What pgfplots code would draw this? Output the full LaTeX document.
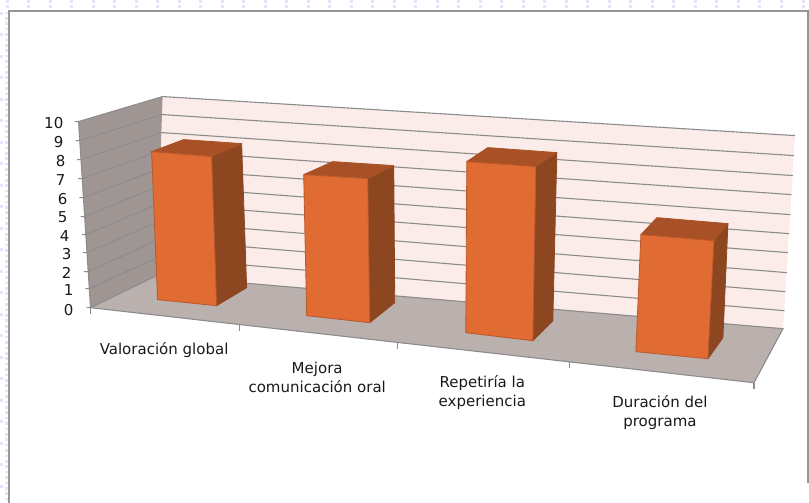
\documentclass[border=0pt]{standalone}
\usepackage{fontspec}
\setmainfont{DejaVu Sans}
\usepackage{pgfplots}
\pgfplotsset{compat=1.18}
\definecolor{backwall}{HTML}{FBECE9}
\definecolor{sidewall}{HTML}{9F9694}
\definecolor{floorc}{HTML}{BAB0AE}
\definecolor{gridc}{HTML}{8C8C8C}
\definecolor{barfront}{HTML}{E06B33}
\definecolor{barside}{HTML}{8D4720}
\definecolor{bartop}{HTML}{A95126}
\definecolor{baredge}{HTML}{B9582A}
\definecolor{framec}{HTML}{969696}
\definecolor{dotc}{HTML}{E3E3FA}
\tikzset{
  grid line/.style={draw=gridc, line width=1.1pt},
  face/.style={line width=0.8pt, line join=round},
  lab/.style={font=\fontsize{15pt}{19pt}\selectfont, align=center, text=black!90, inner sep=0pt},
}
\begin{document}
\begin{tikzpicture}
\begin{axis}[
  scale only axis, width=809pt, height=504pt,
  xmin=0, xmax=809, ymin=-1.5, ymax=502.5, y dir=reverse,
  hide axis, clip=true,
]
% slide background dots and frame
\addplot[dotc, line width=3pt, dash pattern=on 3pt off 18.5pt] coordinates {(6,2)(809,2)};
\addplot[dotc, line width=3pt, dash pattern=on 3pt off 18.5pt] coordinates {(6,7)(809,7)};
\addplot[dotc, line width=3pt, dash pattern=on 3pt off 18.5pt] coordinates {(2,12)(2,504)};
\addplot[dotc, line width=2.4pt, dash pattern=on 2.6pt off 2.8pt] coordinates {(7,12)(7,504)};
\addplot[framec, line width=1.8pt] coordinates {(9.5,504)(9.5,11.5)(808,11.5)(808,483)};

% walls and floor
\addplot[fill=backwall, draw=none] coordinates {(163,97)(795,136)(783,329)(157,276)} -- cycle;
\addplot[fill=sidewall, draw=none] coordinates {(79,122)(163,97)(157,276)(91,308)} -- cycle;
\addplot[fill=floorc, draw=none] coordinates {(91,308)(157,276)(783,329)(754,383)} -- cycle;

% gridlines, back wall
\addplot[grid line] coordinates {(163,97)(795,136)};
\addplot[grid line] coordinates {(162.4,115)(794,156)};
\addplot[grid line] coordinates {(161.8,133)(793,176)};
\addplot[grid line] coordinates {(161.2,151)(791.5,195)};
\addplot[grid line] coordinates {(160.6,169)(790.5,215)};
\addplot[grid line] coordinates {(160,186.5)(789,234)};
\addplot[grid line] coordinates {(159.4,204)(788,253)};
\addplot[grid line] coordinates {(158.8,222)(787,273)};
\addplot[grid line] coordinates {(158.2,240)(785.5,292)};
\addplot[grid line] coordinates {(157.6,258)(784.5,311)};
% gridlines and ticks, side wall
\addplot[grid line] coordinates {(75,122)(79,122)(163,97)};
\addplot[grid line] coordinates {(76.2,141)(80.2,141)(162.4,115)};
\addplot[grid line] coordinates {(77.4,160)(81.4,160)(161.8,133)};
\addplot[grid line] coordinates {(78.6,179)(82.6,179)(161.2,151)};
\addplot[grid line] coordinates {(79.8,198)(83.8,198)(160.6,169)};
\addplot[grid line] coordinates {(81,217)(85,217)(160,186.5)};
\addplot[grid line] coordinates {(82.2,235)(86.2,235)(159.4,204)};
\addplot[grid line] coordinates {(83.4,253)(87.4,253)(158.8,222)};
\addplot[grid line] coordinates {(84.6,272)(88.6,272)(158.2,240)};
\addplot[grid line] coordinates {(85.8,289)(89.8,289)(157.6,258)};
\addplot[grid line] coordinates {(87,308)(91,308)(157,276)(783,329)(754,383)};
% wall edges, front edge of the floor and category ticks
\addplot[grid line] coordinates {(79,122)(91,308)(754,383)};
\addplot[grid line] coordinates {(91,308)(91,314)};
\addplot[grid line] coordinates {(240,325)(240,331)};
\addplot[grid line] coordinates {(398,343)(398,349)};
\addplot[grid line] coordinates {(570,362)(570,368)};
\addplot[grid line] coordinates {(754,383)(754,389)};

% bar 1 Valoracion global
\addplot[fill=barside, draw=barside, face] coordinates {(212,157)(242,144)(247,288)(217,306)} -- cycle;
\addplot[fill=bartop, draw=bartop, face] coordinates {(152,152)(184,140)(242,144)(212,157)} -- cycle;
\addplot[fill=barfront, draw=baredge, face] coordinates {(152,152)(212,157)(217,306)(158,300)} -- cycle;
% bar 2 Mejora comunicacion oral
\addplot[fill=barside, draw=barside, face] coordinates {(368,179)(394,166)(395,303)(370,323)} -- cycle;
\addplot[fill=bartop, draw=bartop, face] coordinates {(304,175)(333,162)(394,166)(368,179)} -- cycle;
\addplot[fill=barfront, draw=baredge, face] coordinates {(304,175)(368,179)(370,323)(307,316)} -- cycle;
% bar 3 Repetiria la experiencia
\addplot[fill=barside, draw=barside, face] coordinates {(536,167)(557,153)(553,321)(533,341)} -- cycle;
\addplot[fill=bartop, draw=bartop, face] coordinates {(467,162)(488,148)(557,153)(536,167)} -- cycle;
\addplot[fill=barfront, draw=baredge, face] coordinates {(467,162)(536,167)(533,341)(466,333)} -- cycle;
% bar 4 Duracion del programa
\addplot[fill=barside, draw=barside, face] coordinates {(714,241)(728,224)(723,338)(708,359)} -- cycle;
\addplot[fill=bartop, draw=bartop, face] coordinates {(641,235)(657,218)(728,224)(714,241)} -- cycle;
\addplot[fill=barfront, draw=baredge, face] coordinates {(641,235)(714,241)(708,359)(636,352)} -- cycle;

% value axis labels
\node[lab, anchor=east] at (axis cs:64,123.5) {10};
\node[lab, anchor=east] at (axis cs:64,142.5) {9};
\node[lab, anchor=east] at (axis cs:66,161.5) {8};
\node[lab, anchor=east] at (axis cs:66,180.5) {7};
\node[lab, anchor=east] at (axis cs:68,199.5) {6};
\node[lab, anchor=east] at (axis cs:68,218) {5};
\node[lab, anchor=east] at (axis cs:70,236) {4};
\node[lab, anchor=east] at (axis cs:72,254.5) {3};
\node[lab, anchor=east] at (axis cs:72,273) {2};
\node[lab, anchor=east] at (axis cs:74,290.5) {1};
\node[lab, anchor=east] at (axis cs:74,310) {0};
% category labels
\node[lab] at (axis cs:164.5,350) {Valoración global};
\node[lab] at (axis cs:317.5,378) {Mejora\\comunicación oral};
\node[lab] at (axis cs:482.5,392.5) {Repetiría la\\experiencia};
\node[lab] at (axis cs:660,413) {Duración del\\programa};
\end{axis}
\end{tikzpicture}
\end{document}
